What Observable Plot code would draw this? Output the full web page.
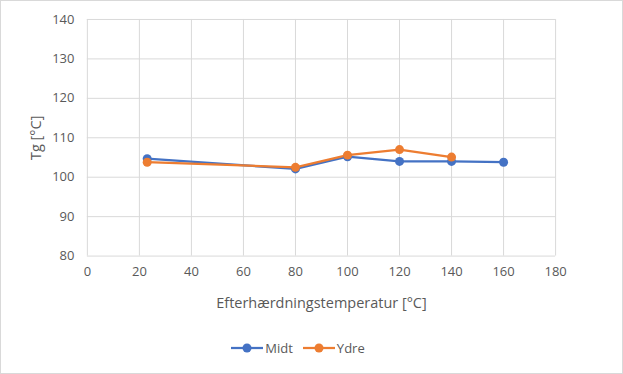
<!DOCTYPE html>
<html><head><meta charset="utf-8">
<script src="https://cdn.jsdelivr.net/npm/d3@7"></script>
<script src="https://cdn.jsdelivr.net/npm/@observablehq/plot@0.6"></script>
<style>
body{margin:0;background:#fff;font-family:"Open Sans",sans-serif;}
#wrap{position:relative;width:621px;height:372px;border:1px solid #d9d9d9;overflow:hidden;}
#chart{position:absolute;left:-1px;top:-1px;}
#legend{position:absolute;left:0;top:338px;width:594px;display:flex;justify-content:center;gap:10px;font-size:13px;color:#595959;}
.li{display:flex;align-items:center;gap:2px;}
</style></head>
<body>
<div id="wrap"><div id="chart"></div><div id="legend"></div></div>
<script>
const seriesNames = ["Midt", "Ydre"];
const colors = ["#4472C4", "#ED7D31"];
const midtX = [23, 80, 100, 120, 140, 160];
const midtY = [104.7, 102.1, 105.2, 104.0, 104.0, 103.8];
const ydreX = [23, 80, 100, 120, 140];
const ydreY = [103.8, 102.5, 105.6, 107.0, 105.1];
const xTicks = [0, 20, 40, 60, 80, 100, 120, 140, 160, 180];
const yTicks = [80, 90, 100, 110, 120, 130, 140];

const data = [
  ...midtX.map((x, i) => ({s: "Midt", x, y: midtY[i]})),
  ...ydreX.map((x, i) => ({s: "Ydre", x, y: ydreY[i]}))
];

const chart = Plot.plot({
  width: 623, height: 320,
  marginLeft: 87, marginRight: 67, marginTop: 19, marginBottom: 64,
  style: {fontFamily: "Open Sans", fontSize: "13px", color: "#595959", background: "transparent"},
  x: {domain: [0, 180], ticks: xTicks},
  y: {domain: [80, 140], ticks: yTicks},
  color: {domain: seriesNames, range: colors},
  marks: [
    Plot.gridX(xTicks, {stroke: "#d9d9d9", strokeOpacity: 1, strokeWidth: 1}),
    Plot.gridY(yTicks, {stroke: "#d9d9d9", strokeOpacity: 1, strokeWidth: 1}),
    Plot.axisX({ticks: xTicks, tickSize: 0, tickPadding: 11, fontSize: 13, label: null}),
    Plot.axisX({ticks: [], tickSize: 0, label: "Efterhærdningstemperatur [°C]", labelAnchor: "center", labelArrow: "none", labelOffset: 52, fontSize: 14.5}),
    Plot.axisY({ticks: yTicks, tickSize: 0, tickPadding: 13, fontSize: 13, label: null}),
    Plot.axisY({ticks: [], tickSize: 0, label: "Tg [°C]", labelAnchor: "center", labelArrow: "none", labelOffset: 57, fontSize: 14.5}),
    Plot.line(data, {x: "x", y: "y", z: "s", stroke: "s", strokeWidth: 2.25}),
    Plot.dot(data, {x: "x", y: "y", fill: "s", r: 4.5})
  ]
});
document.getElementById("chart").appendChild(chart);

const leg = document.getElementById("legend");
seriesNames.forEach((n, i) => {
  const d = document.createElement("div");
  d.className = "li";
  d.innerHTML = `<svg width="32" height="12"><line x1="0" x2="32" y1="6" y2="6" stroke="${colors[i]}" stroke-width="2.25"/><circle cx="16" cy="6" r="4.5" fill="${colors[i]}"/></svg><span>${n}</span>`;
  leg.appendChild(d);
});
</script>
</body></html>
